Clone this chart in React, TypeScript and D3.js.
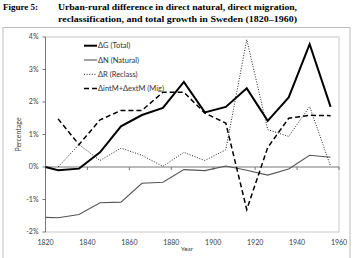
import React from "react";
import * as d3 from "d3";

const years = [1820, 1826, 1836, 1846, 1856, 1866, 1876, 1886, 1896, 1906, 1916, 1926, 1936, 1946, 1956];
const totalG = [0, -0.1, -0.05, 0.45, 1.25, 1.6, 1.82, 2.62, 1.68, 1.85, 2.42, 1.42, 2.14, 3.78, 1.85];
const natural = [-1.55, -1.56, -1.46, -1.1, -1.08, -0.5, -0.47, -0.08, -0.11, 0.03, -0.1, -0.25, -0.06, 0.36, 0.3];
const reclass = [null, 0, 0.69, 0.2, 0.58, 0.36, 0.02, 0.45, 0.2, 0.53, 3.92, 1.15, 0.94, 1.86, 0.02];
const migration = [null, 1.48, 0.69, 1.45, 1.74, 1.74, 2.3, 2.3, 1.66, 1.35, -1.31, 0.6, 1.5, 1.59, 1.58];

const xTicks = [1820, 1840, 1860, 1880, 1900, 1920, 1940, 1960];
const yTicks = [-2, -1, 0, 1, 2, 3, 4];
const legendLabels = ["ΔG (Total)", "ΔN (Natural)", "ΔR (Reclass)", "ΔintM+ΔextM (Mig)"];

const W = 355, H = 258;
const L = 45.5, R = 339, T = 37, B = 232;

export default function App() {
  const x = d3.scaleLinear().domain([1820, 1960]).range([L, R]);
  const y = d3.scaleLinear().domain([-2, 4]).range([B, T]);
  const line = d3
    .line<[number, number | null]>()
    .defined((d) => d[1] !== null)
    .x((d) => x(d[0]))
    .y((d) => y(d[1] as number));
  const mk = (vals: (number | null)[]) => line(years.map((yr, i) => [yr, vals[i]] as [number, number | null])) || "";

  const styles = [
    { stroke: "#000", width: 2, dash: undefined as string | undefined },
    { stroke: "#555", width: 1.1, dash: undefined },
    { stroke: "#222", width: 1, dash: "1,1.6" },
    { stroke: "#000", width: 1.5, dash: "5,3" },
  ];
  const series = [totalG, natural, reclass, migration];
  const sans = "Lato, 'Open Sans', sans-serif";
  const serif = "'Liberation Serif', 'DejaVu Serif', serif";

  return (
    <svg width={W} height={H} style={{ position: "absolute", left: 0, top: 0, background: "#fff" }}>
      {/* title */}
      <text x={3} y={10} fontFamily={serif} fontWeight="bold" fontSize={9}>Figure 5:</text>
      <text x={58} y={10} fontFamily={serif} fontWeight="bold" fontSize={9} textLength={239} lengthAdjust="spacingAndGlyphs">
        Urban-rural difference in direct natural, direct migration,
      </text>
      <text x={58} y={22} fontFamily={serif} fontWeight="bold" fontSize={9} textLength={239} lengthAdjust="spacingAndGlyphs">
        reclassification, and total growth in Sweden (1820–1960)
      </text>
      {/* outer frame */}
      <rect x={3} y={27.5} width={347} height={240} fill="none" stroke="#bdbdbd" strokeWidth={1} />
      {/* plot border */}
      <rect x={L} y={T} width={R - L} height={B - T} fill="none" stroke="#c8c8c8" strokeWidth={1} />
      {/* y axis */}
      <line x1={L} x2={L} y1={T} y2={B} stroke="#777" />
      {yTicks.map((t) => (
        <g key={t}>
          <line x1={L - 3} x2={L} y1={y(t)} y2={y(t)} stroke="#777" />
          <text x={L - 7} y={y(t)} dy="0.35em" textAnchor="end" fontFamily={sans} fontSize={7} fill="#404040">
            {t + "%"}
          </text>
        </g>
      ))}
      {/* zero axis */}
      <line x1={L} x2={R} y1={y(0)} y2={y(0)} stroke="#777" />
      {xTicks.map((t) => (
        <g key={t}>
          <line x1={x(t)} x2={x(t)} y1={y(0)} y2={y(0) + 3} stroke="#777" />
          <text x={x(t)} y={B + 13} textAnchor="middle" fontFamily={sans} fontSize={7} fill="#404040">
            {t}
          </text>
        </g>
      ))}
      <text x={187} y={251} textAnchor="middle" fontFamily={sans} fontSize={6.5} fill="#404040">Year</text>
      <text transform={`translate(21,${(T + B) / 2}) rotate(-90)`} textAnchor="middle" fontFamily={sans} fontSize={7} fill="#404040">
        Percentage
      </text>
      {/* series */}
      {series.map((s, i) => (
        <path key={i} d={mk(s)} fill="none" stroke={styles[i].stroke} strokeWidth={styles[i].width}
          strokeDasharray={styles[i].dash} strokeLinejoin="miter" />
      ))}
      {/* legend */}
      {legendLabels.map((lab, i) => {
        const ly = 45.7 + i * 14.3;
        return (
          <g key={lab}>
            <line x1={84} x2={97} y1={ly} y2={ly} stroke={styles[i].stroke} strokeWidth={styles[i].width} strokeDasharray={styles[i].dash} />
            <text x={98} y={ly} dy="0.35em" fontFamily={sans} fontSize={7.5} fill="#333">{lab}</text>
          </g>
        );
      })}
    </svg>
  );
}
